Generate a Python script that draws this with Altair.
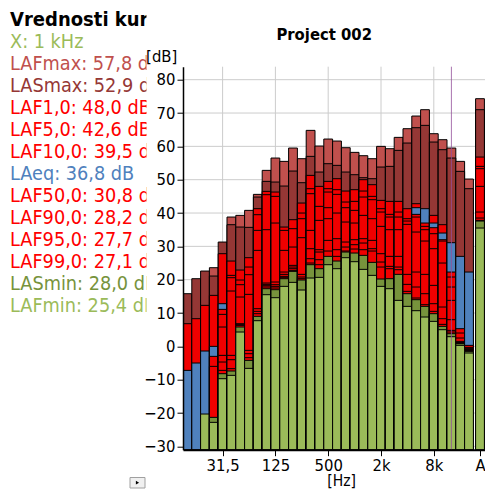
import altair as alt
import pandas as pd

FONT = "DejaVu Sans Condensed, DejaVu Sans"

# ---------------- data ----------------
bands = ["12,5", "16", "20", "25", "31,5", "40", "50", "63", "80", "100", "125", "160",
         "200", "250", "315", "400", "500", "630", "800", "1k", "1,25k", "1,6k", "2k",
         "2,5k", "3,15k", "4k", "5k", "6,3k", "8k", "10k", "12,5k", "16k", "20k", "A"]
tick_bands = ["31,5", "125", "500", "2k", "8k", "A"]
cursor_band = "12,5k"
y_ticks = [-30, -20, -10, 0, 10, 20, 30, 40, 50, 60, 70, 80]
y_min, y_max = -31, 83.9

series = ["LAFmax", "LASmax", "LAF1,0", "LAF5,0", "LAF10,0", "LAeq",
          "LAF50,0", "LAF90,0", "LAF95,0", "LAF99,0", "LASmin", "LAFmin"]
series_colors = ["#C0504D", "#953735", "#F00000", "#F00000", "#F00000", "#4F81BD",
                 "#F00000", "#F00000", "#F00000", "#F00000", "#77933C", "#9BBB59"]

N = None
LAFmax = [N, N, N, 23.6, N, 38.8, 39.3, 40.8, 45.6, 52.8, 56.5, 55.5,
          59.5, 56.3, 64.8, 60.1, 62.2, 61.6, 59.6, 58.2, 57.2, 56.3, 60.0,
          59.3, 62.7, 65.3, 69.1, 71.0, 63.8, 62.0, 59.5, 55.5, 50.2, 74.3]
LASmax = [15.8, 20.3, 22.6, 21.1, 31.3, 36.5, 35.8, 35.7, 44.8, 49.5, 49.3, 48.1,
          52.6, 49.1, 57.0, 52.3, 54.8, 54.3, 52.3, 51.5, 50.6, 50.3, 53.8,
          54.0, 58.8, 61.0, 65.6, 66.3, 61.3, 59.0, 56.5, 52.5, 47.3, 71.0]
LAF1 = [6.8, 8.3, 12.3, 15.3, 27.8, 25.6, 22.9, 26.6, 41.3, 46.5, 46.3, 35.8,
        38.0, 43.0, 51.3, 48.0, 49.5, 50.3, 46.6, 47.0, 50.0, 48.5, 43.8,
        43.5, 43.5, 41.3, 42.8, 37.0, 39.3, 36.5, 22.3, 5.3, 0.3, 56.8]
LAF5 = [N, N, N, -3.0, 11.1, 21.3, 19.9, 23.8, 39.5, 45.5, 45.0, 34.8,
        35.3, 40.0, 47.3, 42.0, 47.3, 47.0, 43.3, 43.5, 46.6, 45.0, 41.3,
        39.6, 40.3, 38.3, 39.6, 36.0, 35.6, 32.0, 20.8, 4.0, -0.3, 54.0]
LAF10 = [N, N, N, -6.0, 9.6, 20.6, 18.5, 21.5, 34.8, 35.0, 37.0, 28.8,
         29.8, 38.3, 45.8, 37.8, 46.3, 45.6, 41.6, 40.8, 44.8, 44.0, 40.3,
         38.8, 38.8, 37.6, 38.8, 35.0, 33.8, 31.6, 17.8, 2.5, -0.6, 53.3]
LAeq = [-7.2, -5.0, -1.4, 0.0, 12.8, N, N, N, N, N, N, N,
        N, N, N, N, N, N, N, N, N, N, N,
        N, N, N, 41.6, 41.3, 37.0, 34.0, 31.1, 27.0, 22.3, N]
LAF50 = [N, N, N, N, 5.8, 16.6, 14.8, 15.6, 28.8, 19.0, 19.3, 22.3,
         24.3, 32.6, 34.8, 29.0, 41.6, 40.0, 37.3, 37.0, 39.3, 38.3, 36.0,
         35.0, 35.0, 36.6, 34.3, 31.6, 29.3, 25.0, 13.8, 1.5, -0.9, 48.0]
LAF90 = [N, N, N, N, -2.7, -2.7, 6.8, -1.2, 11.3, 18.6, 18.5, 21.6,
         23.8, 21.6, 29.3, 28.3, 38.3, 32.3, 31.3, 32.0, 32.3, 31.8, 27.8,
         27.0, 27.0, 21.6, 22.3, 21.6, 18.3, 11.8, 8.0, 1.2, -1.1, 40.3]
LAF95 = [N, N, N, N, -4.7, -4.0, 6.5, -2.2, 10.5, 18.2, 18.0, 21.0,
         23.3, 20.8, 26.3, 26.0, 31.8, 29.0, 29.8, 30.5, 31.0, 29.3, 25.3,
         24.0, 23.8, 18.6, 17.8, 15.8, 12.8, 8.3, 4.8, 1.0, -1.2, 38.5]
LAF99 = [N, N, N, N, -7.2, -6.7, 6.3, -3.4, 9.8, 17.8, 17.5, 20.6,
         22.8, 20.3, 25.0, 24.5, 28.6, 27.0, 28.6, 29.2, 29.0, 28.6, 23.8,
         23.3, 23.0, 16.5, 14.5, 12.5, 10.5, 6.6, 4.3, 0.9, -1.3, 37.8]
LASmin = [N, N, N, -21.3, -8.2, -7.4, 5.8, -4.2, 9.0, 17.3, 17.0, 20.3,
          22.5, 19.9, 24.5, 23.3, 27.0, 25.6, 28.3, 28.0, 27.3, 25.2, 20.2,
          20.3, 21.6, 15.8, 14.0, 12.0, 9.8, 6.0, 3.8, 0.8, -1.5, 37.6]
LAFmin = [N, N, -20.3, -22.8, -9.7, -8.7, 4.3, -6.6, 7.7, 15.5, 14.6, 18.0,
          19.2, 16.9, 20.5, 20.7, 24.5, 23.3, 26.6, 25.4, 23.1, 21.3, 18.0,
          17.3, 13.8, 12.0, 10.7, 8.8, 7.5, 5.0, 2.9, 0.3, -2.0, 35.5]

values = [LAFmax, LASmax, LAF1, LAF5, LAF10, LAeq, LAF50, LAF90, LAF95, LAF99, LASmin, LAFmin]

legend_title = "Vrednosti kur."
legend_labels = ["X: 1 kHz", "LAFmax: 57,8 d", "LASmax: 52,9 d", "LAF1,0: 48,0 dB",
                 "LAF5,0: 42,6 dB", "LAF10,0: 39,5 d", "LAeq: 36,8 dB", "LAF50,0: 30,8 d",
                 "LAF90,0: 28,2 d", "LAF95,0: 27,7 d", "LAF99,0: 27,1 d",
                 "LASmin: 28,0 dB", "LAFmin: 25,4 dB"]
legend_colors = ["#9BBB59", "#C0504D", "#953735", "#FF0000", "#FF0000", "#FF0000",
                 "#4F81BD", "#FF0000", "#FF0000", "#FF0000", "#FF0000", "#77933C", "#9BBB59"]

# ---------------- layout ----------------
STEP = 8.8            # px per band
SUM_GAP = 0.25        # gap (in bands) before the total "A" bar
W = 302               # plot width (page is 493 wide)
H = (y_max - y_min) * 3.3333
OX, OY = 183, 66.7    # plot origin on page
x_max = W / STEP


def slot(name):
    i = bands.index(name)
    return i + SUM_GAP if name == "A" else i


# table: tallest drawn first in each band
rows = []
for bi, b in enumerate(bands):
    items = []
    for si, s in enumerate(series):
        v = values[si][bi]
        if v is not None:
            items.append((v, si, s))
    items.sort(key=lambda t: (-t[0], t[1]))
    for v, si, s in items:
        rows.append({"band": b, "x0": slot(b), "x1": slot(b) + 1,
                     "series": s, "value": v, "base": y_min})
df = pd.DataFrame(rows)
df["z"] = range(len(df))

tick_vals = [slot(b) + 0.5 for b in tick_bands]
label_expr = "''"
for v, b in zip(reversed(tick_vals), reversed(tick_bands)):
    label_expr = f"abs(datum.value - {v}) < 0.01 ? '{b}' : ({label_expr})"

xscale = alt.Scale(domain=[0, x_max], nice=False, zero=False)
yscale = alt.Scale(domain=[y_min, y_max], nice=False, zero=False)

xaxis = alt.Axis(values=tick_vals, labelExpr=label_expr, title=None, grid=False,
                 labelAngle=0, tickSize=6, labelPadding=2, labelFont=FONT,
                 labelFontSize=16.5, labelColor="black", tickColor="black",
                 domainColor="black", domainWidth=2, labelFlush=False, zindex=1)
yaxis = alt.Axis(values=y_ticks, title=None, grid=False, tickSize=6, labelPadding=2,
                 labelFont=FONT, labelFontSize=16.5, labelColor="black",
                 tickColor="black", domainColor="black", domainWidth=1.5, zindex=1)

grid_h = alt.Chart(pd.DataFrame({"v": y_ticks})).mark_rule(
    color="#cccccc", strokeWidth=1).encode(
    y=alt.Y("v:Q", scale=yscale, axis=yaxis), x=alt.value(0), x2=alt.value(W))
grid_v = alt.Chart(pd.DataFrame({"s": tick_vals[:-1]})).mark_rule(
    color="#cccccc", strokeWidth=1).encode(
    x=alt.X("s:Q", scale=xscale, axis=xaxis), y=alt.value(0), y2=alt.value(H))

bars = alt.Chart(df).mark_bar(stroke="black", strokeWidth=1, clip=True).encode(
    x=alt.X("x0:Q", scale=xscale, axis=xaxis),
    x2="x1:Q",
    y=alt.Y("value:Q", scale=yscale, axis=yaxis, stack=None),
    y2="base:Q",
    color=alt.Color("series:N", scale=alt.Scale(domain=series, range=series_colors),
                    legend=None),
    order=alt.Order("z:Q", sort="ascending"),
)

cursor = alt.Chart(pd.DataFrame({"s": [slot(cursor_band) + 0.5]})).mark_rule(
    color="#93509A", strokeWidth=1, opacity=0.8).encode(
    x=alt.X("s:Q", scale=xscale, axis=xaxis), y=alt.value(0), y2=alt.value(H))


def txt(label, ax, ay, color, size, bold=False, align="left"):
    return alt.Chart(pd.DataFrame({"t": [label]})).mark_text(
        align=align, baseline="alphabetic", font=FONT, fontSize=size,
        fontWeight="bold" if bold else "normal", color=color).encode(
        x=alt.value(ax - OX), y=alt.value(ay - OY), text="t:N")


def box(ax1, ay1, ax2, ay2, fill, stroke=None):
    kw = {"color": fill}
    if stroke:
        kw = {"fill": fill, "stroke": stroke, "strokeWidth": 1}
    return alt.Chart(pd.DataFrame({"a": [0]})).mark_rect(**kw).encode(
        x=alt.value(ax1 - OX), x2=alt.value(ax2 - OX),
        y=alt.value(ay1 - OY), y2=alt.value(ay2 - OY))


layers = [grid_h, grid_v, bars, cursor]
layers.append(txt(legend_title, 10, 26, "black", 20.0, bold=True))
for i, (lab, col) in enumerate(zip(legend_labels, legend_colors)):
    layers.append(txt(lab, 10, 47.7 + i * 22.06, col, 19.7))
layers.append(box(146.5, 8, 182, 320, "white"))
layers.append(txt("[dB]", 161.7, 62.5, "black", 16.5, align="center"))
layers.append(txt("[Hz]", 341.7, 486, "black", 15.5, align="center"))
layers.append(txt("Project 002", 324.2, 40.5, "black", 16.5, bold=True, align="center"))
layers.append(box(130, 477.5, 145, 488, "#f0f0f0", stroke="#a0a0a0"))
layers.append(alt.Chart(pd.DataFrame({"a": [0]})).mark_point(
    shape="triangle-right", filled=True, color="black", size=14, opacity=1).encode(
    x=alt.value(137.5 - OX), y=alt.value(482.7 - OY)))

chart = alt.layer(*layers).properties(
    width=W, height=H,
    autosize=alt.AutoSizeParams(type="none"),
    padding={"left": OX - 8, "top": OY - 8, "right": 0, "bottom": 482 - (OY - 8) - H},
).configure_view(strokeWidth=0)

chart.save("out.html", embed_options={"renderer": "svg", "actions": False})
